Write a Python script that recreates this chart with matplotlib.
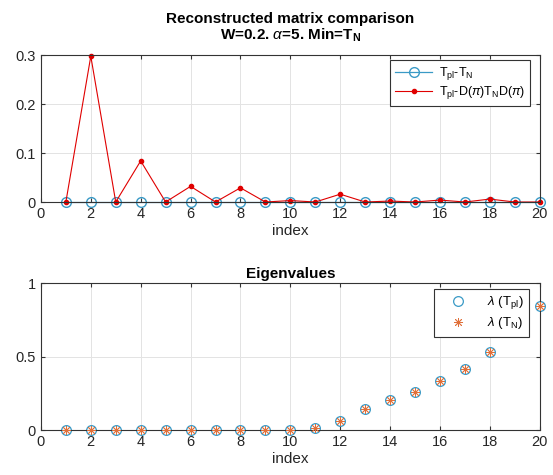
import numpy as np
import matplotlib.pyplot as plt

plt.rcParams['font.family'] = ['Liberation Sans', 'DejaVu Sans']
plt.rcParams['mathtext.fontset'] = 'custom'
plt.rcParams['mathtext.rm'] = 'Liberation Sans'
plt.rcParams['mathtext.it'] = 'Liberation Sans:italic'
plt.rcParams['mathtext.bf'] = 'Liberation Sans:bold'

# data
index = np.arange(1, 21)
diff_plain = [0.0] * 20
diff_perm = [0, 0.298, 0, 0.084, 0, 0.032, 0, 0.029, 0, 0.003,
             0, 0.016, 0, 0.002, 0, 0.004, 0, 0.006, 0, 0]
eig_tpl = [0, 0, 0, 0, 0, 0, 0, 0, 0, 0,
           0.011, 0.06, 0.141, 0.204, 0.26, 0.331, 0.418, 0.53, 0.68, 0.848]
eig_tn = eig_tpl

blue = '#3a9ac6'
orange = '#e0703a'

fig = plt.figure(figsize=(5.53, 4.75), dpi=100)
ax1 = fig.add_axes([0.074, 0.5747, 0.902, 0.309])
ax2 = fig.add_axes([0.074, 0.0947, 0.902, 0.309])


def style(ax):
    ax.set_xlim(0, 20)
    ax.set_xticks(range(0, 21, 2))
    ax.grid(True, color='#e3e3e3', linewidth=0.7)
    ax.set_axisbelow(True)
    ax.tick_params(direction='in', top=True, right=True, labelsize=10.5,
                   color='#333333', labelcolor='#262626', length=3)
    for s in ax.spines.values():
        s.set_color('#333333')
        s.set_linewidth(0.8)
    ax.set_xlabel('index', fontsize=11, color='#262626', labelpad=2)


# top: reconstructed matrix comparison
ax1.plot(index, diff_plain, '-o', color=blue, mfc='none', ms=7, lw=0.9,
         clip_on=False, label=r'T$_{\mathrm{pl}}$-T$_{\mathrm{N}}$')
ax1.plot(index, diff_perm, color='#e00000', linestyle='-', marker='.',
         ms=6, lw=0.8, clip_on=False,
         label=r'T$_{\mathrm{pl}}$-D($\pi$)T$_{\mathrm{N}}$D($\pi$)')
style(ax1)
ax1.set_ylim(0, 0.3)
ax1.set_yticks([0, 0.1, 0.2, 0.3])
ax1.set_yticklabels(['0', '0.1', '0.2', '0.3'])
ax1.set_title('Reconstructed matrix comparison\nW=0.2. $\\alpha$=5. Min=T$_\\mathbf{N}$',
              fontsize=11, fontweight='bold', pad=11, linespacing=1.1)
leg1 = ax1.legend(loc='upper right', fontsize=9, fancybox=False,
                  edgecolor='#333333', framealpha=1, handlelength=3.0,
                  borderaxespad=0.4, labelspacing=0.15, handletextpad=0.5,
                  bbox_to_anchor=(0.99, 1.0))
leg1.get_frame().set_linewidth(0.8)
leg1.set_zorder(10)

# bottom: eigenvalues
ax2.plot(index, eig_tpl, 'o', color=blue, mfc='none', ms=7, mew=0.9,
         clip_on=False, label=r'$\lambda$ (T$_{\mathrm{pl}}$)', zorder=2)
ax2.plot(index, eig_tn, marker=(8, 2, 0), linestyle='none', color=orange,
         ms=6.5, mew=0.6, clip_on=False,
         label=r'$\lambda$ (T$_{\mathrm{N}}$)', zorder=3)
style(ax2)
ax2.set_ylim(0, 1)
ax2.set_yticks([0, 0.5, 1])
ax2.set_yticklabels(['0', '0.5', '1'])
ax2.set_title('Eigenvalues', fontsize=11, fontweight='bold', pad=4)
leg2 = ax2.legend(loc='upper right', fontsize=9.5, fancybox=False,
                  edgecolor='#333333', framealpha=1, handlelength=2.8,
                  borderaxespad=0.45, labelspacing=0.3,
                  bbox_to_anchor=(0.99, 1.0))
leg2.get_frame().set_linewidth(0.8)
leg2.set_zorder(10)

fig.savefig('out.png', dpi=100)
